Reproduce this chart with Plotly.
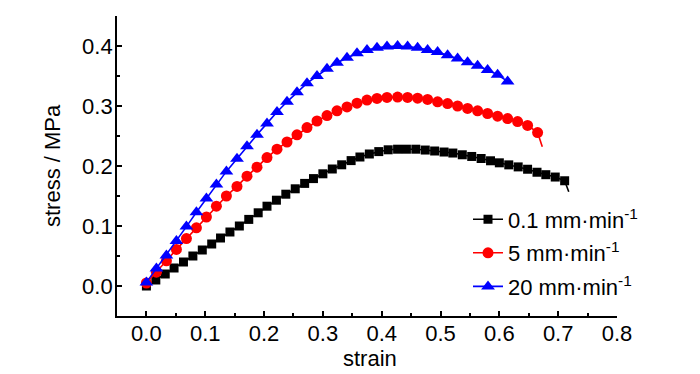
import plotly.graph_objects as go

# ---- data ----
black_x = [0, 0.016, 0.032, 0.047, 0.063, 0.079, 0.095, 0.111, 0.126, 0.142,
           0.158, 0.174, 0.190, 0.205, 0.221, 0.237, 0.253, 0.269, 0.284, 0.300,
           0.316, 0.332, 0.348, 0.363, 0.379, 0.395, 0.411, 0.427, 0.442, 0.458,
           0.474, 0.490, 0.506, 0.521, 0.537, 0.553, 0.569, 0.585, 0.600, 0.616,
           0.632, 0.648, 0.664, 0.679, 0.695, 0.711]
black_y = [0, 0.010, 0.020, 0.030, 0.040, 0.050, 0.060, 0.070, 0.080, 0.090,
           0.100, 0.111, 0.122, 0.133, 0.143, 0.153, 0.162, 0.171, 0.179, 0.187,
           0.195, 0.202, 0.209, 0.215, 0.220, 0.224, 0.227, 0.228, 0.228, 0.228,
           0.2266, 0.225, 0.2233, 0.2216, 0.2187, 0.2159, 0.2125, 0.2087, 0.2053, 0.2019,
           0.1985, 0.1946, 0.1896, 0.1855, 0.1816, 0.1754]
black_tail_x = [0.711, 0.718]
black_tail_y = [0.1754, 0.157]

red_x = [0, 0.017, 0.034, 0.051, 0.068, 0.085, 0.102, 0.119, 0.136, 0.154,
         0.171, 0.188, 0.205, 0.222, 0.239, 0.256, 0.273, 0.290, 0.307, 0.324,
         0.341, 0.358, 0.375, 0.392, 0.409, 0.427, 0.444, 0.461, 0.478, 0.495,
         0.512, 0.529, 0.546, 0.563, 0.580, 0.597, 0.614, 0.631, 0.648, 0.665]
red_y = [0.005, 0.023, 0.042, 0.061, 0.079, 0.097, 0.115, 0.133, 0.150, 0.166,
         0.183, 0.198, 0.214, 0.228, 0.240, 0.252, 0.264, 0.275, 0.284, 0.292,
         0.2985, 0.3047, 0.3098, 0.3126, 0.3143, 0.3148, 0.3143, 0.3131, 0.3109, 0.307,
         0.304, 0.300, 0.296, 0.292, 0.2875, 0.283, 0.279, 0.274, 0.2676, 0.2558]
red_tail_x = [0.665, 0.673]
red_tail_y = [0.2558, 0.232]

blue_x = [0, 0.017, 0.034, 0.051, 0.068, 0.085, 0.102, 0.119, 0.136, 0.154,
          0.171, 0.188, 0.205, 0.222, 0.239, 0.256, 0.273, 0.290, 0.307, 0.324,
          0.341, 0.358, 0.375, 0.392, 0.409, 0.427, 0.444, 0.461, 0.478, 0.495,
          0.512, 0.529, 0.546, 0.563, 0.580, 0.597, 0.614]
blue_y = [0.006, 0.029, 0.051, 0.075, 0.099, 0.123, 0.146, 0.169, 0.191, 0.212,
          0.233, 0.252, 0.271, 0.290, 0.307, 0.323, 0.338, 0.350, 0.362, 0.372,
          0.3806, 0.388, 0.3935, 0.397, 0.399, 0.400, 0.399, 0.397, 0.3935, 0.390,
          0.3845, 0.379, 0.373, 0.367, 0.360, 0.352, 0.341]

series_names = ["0.1 mm·min<sup>-1</sup>", "5 mm·min<sup>-1</sup>", "20 mm·min<sup>-1</sup>"]
x_ticks = [0.0, 0.1, 0.2, 0.3, 0.4, 0.5, 0.6, 0.7, 0.8]
y_ticks = [0.0, 0.1, 0.2, 0.3, 0.4]
x_title = "strain"
y_title = "stress / MPa"

FONT = "Liberation Sans Narrow, Arial Narrow, Liberation Sans, Arial, sans-serif"

fig = go.Figure()
fig.add_trace(go.Scatter(x=black_x, y=black_y, mode="lines+markers", name=series_names[0],
                         legendgroup="a",
                         line=dict(color="#000000", width=1.6),
                         marker=dict(symbol="square", size=9, color="#000000")))
fig.add_trace(go.Scatter(x=black_tail_x, y=black_tail_y, mode="lines", showlegend=False,
                         line=dict(color="#000000", width=1.6)))
fig.add_trace(go.Scatter(x=red_x, y=red_y, mode="lines+markers", name=series_names[1],
                         legendgroup="b",
                         line=dict(color="#ff0000", width=1.6),
                         marker=dict(symbol="circle", size=11, color="#ff0000")))
fig.add_trace(go.Scatter(x=red_tail_x, y=red_tail_y, mode="lines", showlegend=False,
                         line=dict(color="#ff0000", width=1.6)))
fig.add_trace(go.Scatter(x=blue_x, y=blue_y, mode="lines+markers", name=series_names[2],
                         legendgroup="c",
                         line=dict(color="#0000ff", width=1.6),
                         marker=dict(symbol="triangle-up", size=12, color="#0000ff")))

axis_common = dict(
    showline=True, linecolor="#000000", linewidth=1.8,
    ticks="inside", ticklen=5, tickwidth=1.5, tickcolor="#000000",
    showgrid=False, zeroline=False, mirror=False, automargin=False,
    tickfont=dict(family=FONT, size=22, color="#000000"),
    minor=dict(ticks="inside", ticklen=3, tickwidth=1.5, tickcolor="#000000", showgrid=False),
)

fig.update_xaxes(range=[-0.05, 0.8], tickvals=x_ticks, tickformat=".1f",
                 minor_dtick=0.05, ticklabelstandoff=-3, **axis_common)
fig.update_yaxes(range=[-0.05, 0.45], tickvals=y_ticks, tickformat=".1f",
                 minor_dtick=0.05, ticklabelstandoff=-2, **axis_common)

fig.add_annotation(text=x_title, xref="paper", yref="paper", x=0.505, y=-0.142,
                   xanchor="center", yanchor="middle", showarrow=False,
                   font=dict(family=FONT, size=22, color="#000000"))
fig.add_annotation(text=y_title, xref="paper", yref="paper", x=-0.13, y=0.5,
                   xanchor="center", yanchor="middle", showarrow=False, textangle=-90,
                   font=dict(family=FONT, size=22, color="#000000"))

fig.update_layout(
    width=692, height=366,
    margin=dict(l=109, r=83, t=8, b=58),
    plot_bgcolor="#ffffff", paper_bgcolor="#ffffff",
    font=dict(family=FONT, size=22, color="#000000"),
    legend=dict(x=0.702, y=0.392, xanchor="left", yanchor="top",
                bgcolor="rgba(0,0,0,0)", tracegroupgap=2,
                font=dict(family=FONT, size=22, color="#000000")),
)

fig.write_html("out.html")
